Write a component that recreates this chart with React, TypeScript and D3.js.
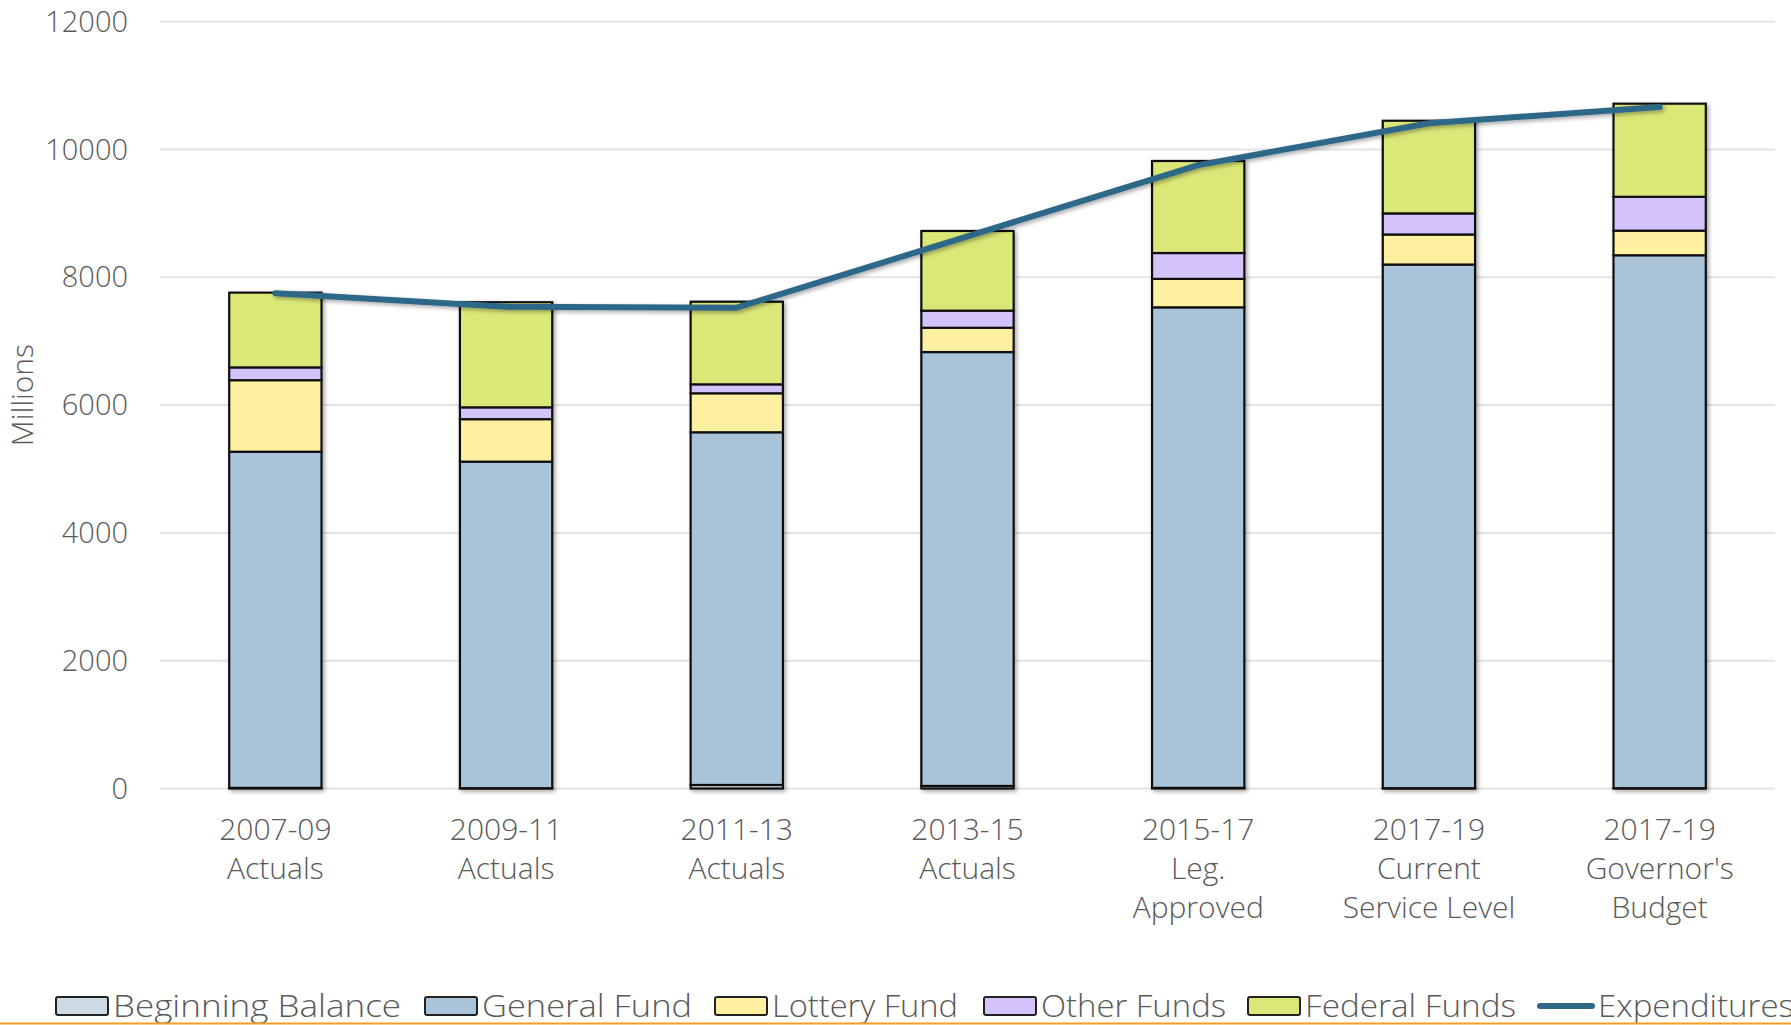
import React, { useRef, useEffect } from 'react';
import * as d3 from 'd3';

const categories = [
  ['2007-09', 'Actuals'],
  ['2009-11', 'Actuals'],
  ['2011-13', 'Actuals'],
  ['2013-15', 'Actuals'],
  ['2015-17', 'Leg.', 'Approved'],
  ['2017-19', 'Current', 'Service Level'],
  ['2017-19', "Governor's", 'Budget'],
];
const beginningBalance = [10, 5, 55, 40, 10, 5, 5];
const generalFund = [5260, 5110, 5520, 6790, 7520, 8195, 8340];
const lotteryFund = [1120, 665, 610, 380, 445, 470, 385];
const otherFunds = [200, 185, 140, 268, 405, 330, 530];
const federalFunds = [1170, 1645, 1293, 1247, 1440, 1450, 1457];
const expenditures = [7750, 7540, 7525, 8640, 9755, 10410, 10665];
const yTicks = [0, 2000, 4000, 6000, 8000, 10000, 12000];

const seriesNames = ['Beginning Balance', 'General Fund', 'Lottery Fund', 'Other Funds', 'Federal Funds'];
const seriesColors = ['#cddbe7', '#a9c3d8', '#fef0a1', '#d4c2fb', '#dbe878'];
const lineColor = '#2e6889';
const textColor = '#595959';
const font = '"Open Sans", Lato, sans-serif';

const App = () => {
  const svgRef = useRef(null);

  useEffect(() => {
    const svg = d3.select(svgRef.current);
    svg.selectAll('*').remove();

    const left = 160, right = 1775, top = 21.7, bottom = 788.5;
    const keys = categories.map((c, i) => String(i));

    const x = d3.scaleBand().domain(keys).range([left, right]).paddingInner(0.6).paddingOuter(0.3);
    const y = d3.scaleLinear().domain([0, 12000]).range([bottom, top]);

    // sombras
    const defs = svg.append('defs');
    defs.append('filter').attr('id', 'shadow').attr('x', '-20%').attr('y', '-20%').attr('width', '140%').attr('height', '140%')
      .append('feDropShadow').attr('dx', 2).attr('dy', 2).attr('stdDeviation', 2)
      .attr('flood-color', '#000').attr('flood-opacity', 0.35);

    // gridlines
    svg.append('g').selectAll('line').data(yTicks).join('line')
      .attr('x1', left).attr('x2', right)
      .attr('y1', d => y(d)).attr('y2', d => y(d))
      .attr('stroke', '#e3e3e3').attr('stroke-width', 2);

    svg.append('g').selectAll('text').data(yTicks).join('text')
      .attr('x', 128).attr('y', d => y(d)).attr('dy', '0.35em')
      .attr('text-anchor', 'end').attr('font-family', font).attr('font-size', 29)
      .attr('font-weight', 300).attr('fill', textColor).text(d => d);

    svg.append('text')
      .attr('transform', `translate(33,${(top + bottom) / 2 - 10}) rotate(-90)`)
      .attr('text-anchor', 'middle').attr('font-family', font).attr('font-size', 30)
      .attr('font-weight', 300).attr('fill', textColor).text('Millions');

    // stacked bars
    const rows = keys.map((k, i) => ({
      key: k,
      s0: beginningBalance[i], s1: generalFund[i], s2: lotteryFund[i], s3: otherFunds[i], s4: federalFunds[i],
    }));
    const stack = d3.stack().keys(['s0', 's1', 's2', 's3', 's4'])(rows);

    const barG = svg.append('g').attr('filter', 'url(#shadow)');
    stack.forEach((layer, li) => {
      barG.append('g').selectAll('rect').data(layer).join('rect')
        .attr('x', d => x(d.data.key))
        .attr('width', x.bandwidth())
        .attr('y', d => y(d[1]))
        .attr('height', d => y(d[0]) - y(d[1]))
        .attr('fill', seriesColors[li])
        .attr('stroke', '#111').attr('stroke-width', 2.2);
    });

    // line
    const line = d3.line().x((d, i) => x(keys[i]) + x.bandwidth() / 2).y(d => y(d));
    svg.append('path').datum(expenditures)
      .attr('fill', 'none').attr('stroke', lineColor).attr('stroke-width', 6)
      .attr('stroke-linecap', 'round').attr('stroke-linejoin', 'round')
      .attr('filter', 'url(#shadow)').attr('d', line);

    // x labels
    categories.forEach((lines, i) => {
      const t = svg.append('text')
        .attr('x', x(keys[i]) + x.bandwidth() / 2).attr('y', 840)
        .attr('text-anchor', 'middle').attr('font-family', font).attr('font-size', 30)
        .attr('font-weight', 300).attr('fill', textColor);
      lines.forEach((l, j) => {
        t.append('tspan').attr('x', x(keys[i]) + x.bandwidth() / 2).attr('dy', j === 0 ? 0 : 39).text(l);
      });
    });

    // legend
    const legendItems = [
      { name: seriesNames[0], box: 56, tx: 113, tw: 288 },
      { name: seriesNames[1], box: 425, tx: 482, tw: 210 },
      { name: seriesNames[2], box: 715, tx: 772, tw: 186 },
      { name: seriesNames[3], box: 984, tx: 1041, tw: 185 },
      { name: seriesNames[4], box: 1248, tx: 1305, tw: 211 },
    ];
    const ly = 1006;
    legendItems.forEach((it, i) => {
      svg.append('rect').attr('x', it.box).attr('y', ly - 9).attr('width', 52).attr('height', 18)
        .attr('fill', seriesColors[i]).attr('stroke', '#222').attr('stroke-width', 2).attr('rx', 2);
      svg.append('text').attr('x', it.tx).attr('y', ly).attr('dy', '0.36em')
        .attr('font-family', font).attr('font-size', 31).attr('font-weight', 300).attr('fill', textColor)
        .attr('textLength', it.tw).attr('lengthAdjust', 'spacingAndGlyphs').text(it.name);
    });
    svg.append('line').attr('x1', 1540).attr('x2', 1592).attr('y1', ly).attr('y2', ly)
      .attr('stroke', lineColor).attr('stroke-width', 6).attr('stroke-linecap', 'round');
    svg.append('text').attr('x', 1598).attr('y', ly).attr('dy', '0.36em')
      .attr('font-family', font).attr('font-size', 31).attr('font-weight', 300).attr('fill', textColor)
      .attr('textLength', 196).attr('lengthAdjust', 'spacingAndGlyphs').text('Expenditures');

    // borde inferior
    svg.append('line').attr('x1', 0).attr('x2', 1791).attr('y1', 1023.5).attr('y2', 1023.5)
      .attr('stroke', '#f0a020').attr('stroke-width', 2);
  }, []);

  return (
    <svg ref={svgRef} width="1791" height="1025"
      style={{ position: 'absolute', left: 0, top: 0, background: '#fff' }}></svg>
  );
};

export default App;
